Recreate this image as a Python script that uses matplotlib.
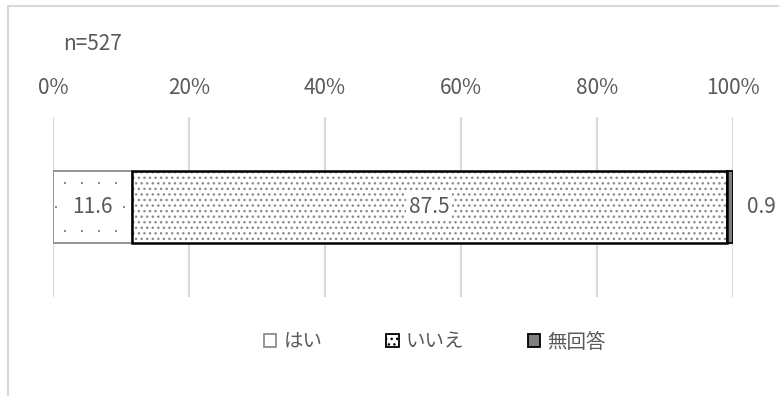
import numpy as np
import matplotlib.pyplot as plt
from matplotlib.patches import Rectangle, Patch

plt.rcParams['font.family'] = ['Noto Sans CJK JP', 'DejaVu Sans']
plt.rcParams['hatch.linewidth'] = 1.0

categories = ['はい', 'いいえ', '無回答']
values = [11.6, 87.5, 0.9]
sample_note = 'n=527'
ticks = [0, 20, 40, 60, 80, 100]
tick_labels = ['0%', '20%', '40%', '60%', '80%', '100%']

text_color = '#595959'
grid_color = '#d9d9d9'
dot_color = '#8c8c8c'
num_size = 15

# fill, hatch, outline colour, outline width
styles = [
    ('white', None, dot_color, 1.3),
    ('white', '...', 'black', 1.8),
    ('#7f7f7f', None, 'black', 1.3),
]

fig = plt.figure(figsize=(7.79, 3.96), dpi=100)
ax = fig.add_axes([53 / 779, 1 - 297 / 396, 680 / 779, 180 / 396])

# outer chart frame
fig.patches.append(Rectangle((8 / 779, -0.1), 1.2, 1.1 - 6 / 396,
                             transform=fig.transFigure, fill=False,
                             edgecolor=grid_color, linewidth=1.5))

bar_y, bar_h = 0.5, 0.4
left = 0
for val, (fc, hatch, ec, lw) in zip(values, styles):
    # hatch drawn in grey first, then the outline on top
    ax.barh(bar_y, val, left=left, height=bar_h, color=fc, hatch=hatch,
            edgecolor=dot_color, linewidth=0, zorder=2)
    ax.barh(bar_y, val, left=left, height=bar_h, fill=False,
            edgecolor=ec, linewidth=lw, zorder=3)
    left += val

# sparse dot texture for the first segment
row_ys = bar_y - bar_h / 2 + np.array([12, 36, 60]) / 180
for i, yy in enumerate(row_ys):
    start = 1.76 if i % 2 == 0 else 0.51
    xs = np.arange(start, values[0], 2.5)
    ax.scatter(xs, np.full_like(xs, yy), s=2.5, marker='s', color=dot_color,
               linewidths=0, zorder=2.5)

# value labels
ax.text(values[0] / 2, bar_y, f'{values[0]}', ha='center', va='center',
        fontsize=num_size, color=text_color, zorder=4,
        bbox=dict(facecolor='white', edgecolor='none', pad=2))
ax.text(values[0] + values[1] / 2, bar_y, f'{values[1]}', ha='center',
        va='center', fontsize=num_size, color=text_color, zorder=4,
        bbox=dict(facecolor='white', edgecolor='none', pad=2))
ax.text(sum(values) + 2.0, bar_y, f'{values[2]}', ha='left', va='center',
        fontsize=num_size, color=text_color, zorder=4)

ax.set_xlim(0, 100)
ax.set_ylim(0, 1)
ax.set_xticks(ticks)
ax.set_xticklabels(tick_labels)
ax.xaxis.tick_top()
ax.tick_params(axis='x', length=0, pad=13, labelsize=num_size,
               labelcolor=text_color)
ax.set_yticks([])
ax.grid(axis='x', color=grid_color, linewidth=1.5, zorder=0)
ax.set_axisbelow(True)
for sp in ax.spines.values():
    sp.set_visible(False)

fig.text(63 / 779, 1 - 44 / 396, sample_note, ha='left', va='center',
         fontsize=num_size, color=text_color)

handles = [Patch(facecolor=fc, hatch=h, edgecolor='black' if i else dot_color,
                 linewidth=1.3) for i, (fc, h, ec, lw) in enumerate(styles)]
fig.legend(handles, categories, loc='center', ncol=3,
           bbox_to_anchor=(435 / 779, 1 - 342 / 396), frameon=False,
           fontsize=14, labelcolor=text_color, handlelength=0.62,
           handleheight=0.62, handletextpad=0.36, columnspacing=3.3)

fig.savefig('out.png', dpi=100)
